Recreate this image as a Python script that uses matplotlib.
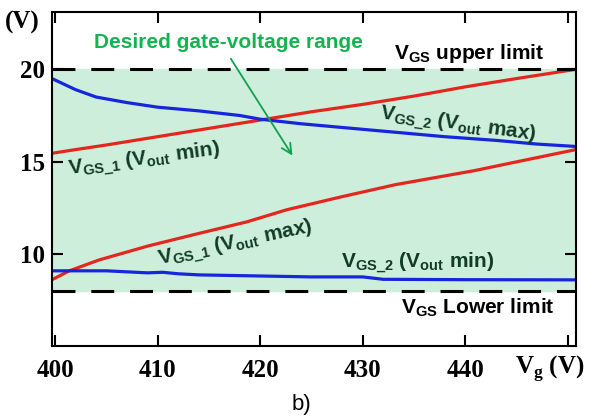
import matplotlib
matplotlib.use('Agg')
import matplotlib.pyplot as plt

plt.rcParams['mathtext.fontset'] = 'custom'
plt.rcParams['mathtext.bf'] = 'Liberation Sans:bold'
plt.rcParams['mathtext.rm'] = 'Liberation Serif:bold'

# values
vgs_upper = 20
vgs_lower = 8

x_min1 = [399.7, 402, 405, 410, 415, 420, 425, 430, 435, 440, 445, 450.8]
vgs1_min = [15.45, 15.65, 15.9, 16.35, 16.8, 17.25, 17.7, 18.1, 18.55, 19.05, 19.5, 20.0]

x_max2 = [399.7, 402, 404, 407, 410, 414, 418, 420, 424, 428, 433, 438, 443, 447, 450.8]
vgs2_max = [19.5, 18.9, 18.5, 18.2, 17.95, 17.75, 17.5, 17.3, 17.05, 16.85, 16.6, 16.35, 16.15, 15.95, 15.82]

x_max1 = [399.7, 401.4, 404.3, 409.1, 413.9, 418.75, 422.6, 428, 433.2, 440.9, 446, 450.8]
vgs1_max = [8.6, 9.08, 9.67, 10.43, 11.09, 11.74, 12.39, 13.1, 13.75, 14.51, 15.1, 15.65]

x_min2 = [399.7, 405, 409, 410.5, 412, 414, 420, 425, 430, 432, 440, 450.8]
vgs2_min = [9.08, 9.08, 8.97, 9.0, 8.92, 8.86, 8.8, 8.75, 8.75, 8.62, 8.6, 8.59]

xticks = [400, 410, 420, 430, 440, 450]
xticklabels = ['400', '410', '420', '430', '440', '']
yticks = [10, 15, 20]

red = '#e5261f'
blue = '#1626dc'
label_col = '#123b27'
serif = 'Liberation Serif'
sans = 'Liberation Sans'

fig = plt.figure(figsize=(5.94, 4.19), dpi=100)
ax = fig.add_axes([0.0875, 0.174, 0.882, 0.797])

ax.axhspan(vgs_lower, vgs_upper, color='#cdeedb', zorder=0)
ax.axhline(vgs_upper, color='black', lw=2.2, ls=(0, (7.5, 5.2)), zorder=3)
ax.axhline(vgs_lower, color='black', lw=2.2, ls=(0, (7.5, 5.2)), zorder=3)

ax.plot(x_min1, vgs1_min, color=red, lw=2.3, zorder=2)
ax.plot(x_max2, vgs2_max, color=blue, lw=2.3, zorder=2)
ax.plot(x_max1, vgs1_max, color=red, lw=2.3, zorder=2)
ax.plot(x_min2, vgs2_min, color=blue, lw=2.3, zorder=2)

ax.set_xlim(399.7, 450.8)
ax.set_ylim(5, 23.1)
ax.set_xticks(xticks)
ax.set_xticklabels(xticklabels)
ax.set_yticks(yticks)
ax.tick_params(direction='in', length=8, width=1.5, top=True, right=True,
               labelsize=18, pad=5)
ax.tick_params(axis='x', pad=9)
for lab in ax.get_xticklabels() + ax.get_yticklabels():
    lab.set_fontfamily(serif)
    lab.set_fontweight('bold')
for sp in ax.spines.values():
    sp.set_linewidth(1.5)

# labels
ax.text(440.4, 20.87, r'V$_{\mathbf{GS}}$ upper limit', family=sans,
        weight='bold', fontsize=15, ha='center', va='center')
ax.text(441.2, 7.07, r'V$_{\mathbf{GS}}$ Lower limit', family=sans,
        weight='bold', fontsize=15, ha='center', va='center')
ax.text(439.3, 16.96, r'V$_{\mathbf{GS\_2}}$ (V$_{\mathbf{out}}$ max)',
        family=sans, weight='bold', fontsize=15, color=label_col,
        ha='center', va='center', rotation=-8)
ax.text(408.7, 15.05, r'V$_{\mathbf{GS\_1}}$ (V$_{\mathbf{out}}$ min)',
        family=sans, weight='bold', fontsize=15, color=label_col,
        ha='center', va='center', rotation=7.5)
ax.text(417.6, 10.54, r'V$_{\mathbf{GS\_1}}$ (V$_{\mathbf{out}}$ max)',
        family=sans, weight='bold', fontsize=15, color=label_col,
        ha='center', va='center', rotation=12)
ax.text(435.4, 9.46, r'V$_{\mathbf{GS\_2}}$ (V$_{\mathbf{out}}$ min)',
        family=sans, weight='bold', fontsize=15, color=label_col,
        ha='center', va='center')

ax.text(0.336, 21.47, 'Desired gate-voltage range', transform=ax.get_yaxis_transform(),
        family=sans, weight='bold', fontsize=15, color='#14b34f',
        ha='center', va='center')
ax.annotate('', xy=(423.3, 15.2), xytext=(417.0, 20.7),
            arrowprops=dict(arrowstyle='->', color='#14a050', lw=1.3,
                            mutation_scale=18))

ax.text(448.3, -0.068, r'V$_{\mathrm{g}}$ (V)', transform=ax.get_xaxis_transform(),
        family=serif, weight='bold', fontsize=18, ha='center', va='center')
fig.text(22 / 594, 1 - 22 / 419, '(V)', family=serif, weight='bold',
         fontsize=18, ha='center', va='center')
fig.text(301 / 594, 1 - 404 / 419, 'b)', family=sans, fontsize=16,
         ha='center', va='center')

fig.savefig('out.png', dpi=100)
